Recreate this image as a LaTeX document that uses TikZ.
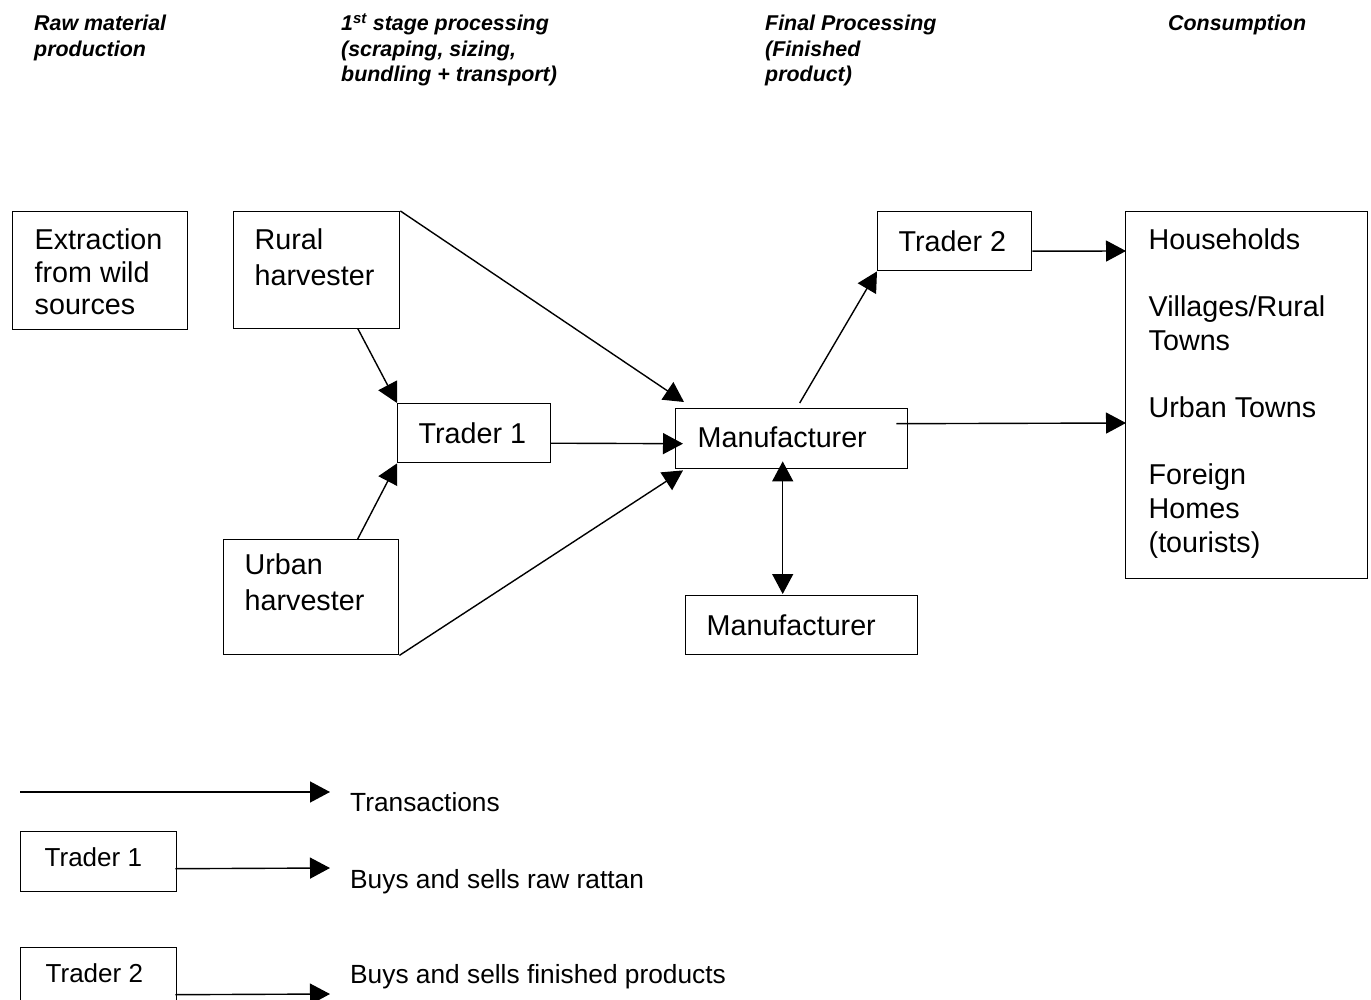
\documentclass[tikz,border=0pt]{standalone}
\usepackage{fontspec}
\setmainfont{Liberation Sans}
\usetikzlibrary{arrows.meta,calc}
\newcommand{\bxt}[5]{\parbox[c][#2][t]{#1}{\raggedright\leftskip=#3\relax\rule{0pt}{#4}#5}}
\newcommand{\hdt}[1]{\parbox[t]{320pt}{\raggedright #1}}
\tikzset{
  box/.style={draw, line width=1.4pt, inner sep=0pt, anchor=north west, font=\fontsize{28.7}{33}\selectfont},
  lgbox/.style={box, font=\fontsize{26}{30}\selectfont},
  head/.style={anchor=base west, inner sep=0pt, font=\fontsize{21.4}{25.5}\selectfont\bfseries\itshape},
  lgtext/.style={anchor=base west, inner sep=0pt, font=\fontsize{26.3}{30}\selectfont},
  flow/.style={line width=1.4pt, -{Triangle[length=20pt,width=21pt]}},
  flowboth/.style={line width=1.4pt, {Triangle[length=20pt,width=21pt]}-{Triangle[length=20pt,width=21pt]}}
}
\begin{document}
\begin{tikzpicture}[x=1pt,y=-1pt]
\useasboundingbox (0,0) rectangle (1371,1000);
\fill[white] (0,0) rectangle (1371,1000);

% column headings
\node[head] (h1) at (34,31) {\hdt{Raw material\\production}};
\node[head] (h2) at (341,31) {\hdt{1\textsuperscript{st} stage processing\\(scraping, sizing,\\bundling + transport)}};
\node[head] (h3) at (765,31) {\hdt{Final Processing\\(Finished\\product)}};
\node[head] (h4) at (1168,31) {\hdt{Consumption}};

% boxes
\node[box, font=\fontsize{28.7}{32.5}\selectfont] (ext) at (12,211) {\bxt{175pt}{118pt}{22pt}{38pt}{Extraction\\from wild\\sources}};
\node[box, font=\fontsize{28.7}{36}\selectfont] (rural) at (233,211) {\bxt{166pt}{117pt}{21pt}{38pt}{Rural\\harvester}};
\node[box] (trader1) at (397,403) {\bxt{153pt}{59pt}{21pt}{40pt}{Trader 1}};
\node[box, font=\fontsize{28.7}{36}\selectfont] (urban) at (223,539) {\bxt{175pt}{115pt}{21pt}{35pt}{Urban\\harvester}};
\node[box] (manu) at (675,408) {\bxt{232pt}{60pt}{22pt}{39pt}{Manufacturer}};
\node[box] (trader2) at (877,211) {\bxt{154pt}{59pt}{21pt}{40pt}{Trader 2}};
\node[box] (manu2) at (685,595) {\bxt{232pt}{59pt}{21pt}{40pt}{Manufacturer}};
\node[box, font=\fontsize{28.7}{33.6}\selectfont] (cons) at (1125,211) {\bxt{242pt}{367pt}{23pt}{38pt}{Households\\[33.6pt]Villages/Rural\\Towns\\[33.6pt]Urban Towns\\[33.6pt]Foreign\\Homes\\(tourists)}};

% connectors
\draw[flow] (rural.north east) -- ($(manu.north west)+(9,-6)$);
\draw[flow] ($(rural.south)+(41,-1)$) -- (trader1.north west);
\draw[flow] ($(trader1.east)+(-1,10)$) -- ($(manu.west)+(8,5)$);
\draw[flow] ($(urban.north)+(46.5,0)$) -- (trader1.south west);
\draw[flow] (urban.south east) -- ($(manu.south west)+(8,1)$);
\draw[flow] ($(manu.north)+(8,-5)$) -- (trader2.south west);
\draw[flow] ($(trader2.east)+(0,10)$) -- ($(cons.north west)+(1,40)$);
\draw[flow] ($(manu.east)+(-12,-15)$) -- ($(cons.north west)+(1,212)$);
\draw[flowboth] ($(manu.south)+(-9,-8)$) -- ($(manu2.north)+(-19,-1)$);

% legend
\coordinate (la) at (20,792);
\coordinate (lb) at (330,792);
\draw[flow] (la) -- (lb);
\node[lgtext] (lt0) at (350,811.7) {Transactions};

\node[lgbox] (lg1) at (20,831) {\bxt{156pt}{60pt}{24pt}{35pt}{Trader 1}};
\coordinate (l1b) at (330,868);
\draw[flow] ($(lg1.east)+(-2,7)$) -- (l1b);
\node[lgtext] (lt1) at (350,888.3) {Buys and sells raw rattan};

\node[lgbox] (lg2) at (20,947) {\bxt{156pt}{59pt}{25pt}{35pt}{Trader 2}};
\coordinate (l2b) at (330,994);
\draw[flow] ($(lg2.east)+(-2,17.5)$) -- (l2b);
\node[lgtext] (lt2) at (350,983) {Buys and sells finished products};
\end{tikzpicture}
\end{document}
